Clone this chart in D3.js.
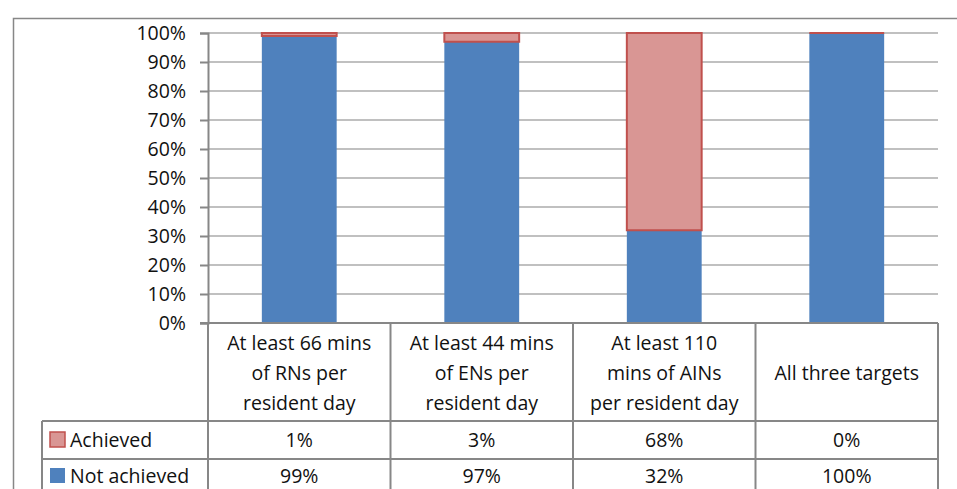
<!DOCTYPE html>
<html>
<head>
<meta charset="utf-8">
<script src="https://cdn.jsdelivr.net/npm/d3@7"></script>
<style>
  body { margin: 0; background: #fff; }
  text { font-family: "Open Sans", "Noto Sans", sans-serif; fill: #111; }
</style>
</head>
<body>
<script>
const categories = [
  ["At least 66 mins", "of RNs per", "resident day"],
  ["At least 44 mins", "of ENs per", "resident day"],
  ["At least 110", "mins of AINs", "per resident day"],
  ["All three targets"]
];
const seriesNames = ["Achieved", "Not achieved"];
const achieved = [1, 3, 68, 0];
const notAchieved = [99, 97, 32, 100];
const yTicks = [0, 10, 20, 30, 40, 50, 60, 70, 80, 90, 100];

const width = 957, height = 489;
const blue = "#4f81bd", pink = "#d99694", red = "#c0504d";
const lineGray = "#878787", gridGray = "#c0c0c0";
const fs = 19.5;

const svg = d3.select("body").append("svg")
  .attr("width", width).attr("height", height);

const x = d3.scaleBand().domain(d3.range(categories.length)).range([208, 938]).padding(0);
const y = d3.scaleLinear().domain([0, 100]).range([323, 33]);
const barW = x.bandwidth() * 0.41;

// outer border
svg.append("path")
  .attr("d", `M13.5,${height} V18.5 H${width}`)
  .attr("fill", "none").attr("stroke", lineGray).attr("stroke-width", 1.5);

// gridlines
svg.append("g").selectAll("line")
  .data(yTicks.filter(d => d > 0))
  .enter().append("line")
  .attr("x1", 208).attr("x2", 938)
  .attr("y1", d => y(d)).attr("y2", d => y(d))
  .attr("stroke", gridGray).attr("stroke-width", 2);

// y axis
const yAxis = svg.append("g")
  .attr("transform", "translate(208,0)")
  .call(d3.axisLeft(y).tickValues(yTicks).tickFormat(d => d + "%").tickSize(8).tickPadding(14));
yAxis.select(".domain").attr("stroke", lineGray).attr("stroke-width", 2);
yAxis.selectAll(".tick line").attr("stroke", lineGray).attr("stroke-width", 2);
yAxis.selectAll(".tick text").attr("font-size", fs).attr("fill", "#111")
  .attr("font-family", '"Open Sans", sans-serif');

// stacked bars
const stackData = categories.map((c, i) => ({ i, notAchieved: notAchieved[i], achieved: achieved[i] }));
const stack = d3.stack().keys(["notAchieved", "achieved"])(stackData);

svg.append("g").selectAll("rect")
  .data(stack[0]).enter().append("rect")
  .attr("x", d => x(d.data.i) + (x.bandwidth() - barW) / 2)
  .attr("width", barW)
  .attr("y", d => y(d[1]))
  .attr("height", d => y(d[0]) - y(d[1]))
  .attr("fill", blue);

// achieved drawn as paths so a zero segment still shows its outline
svg.append("g").selectAll("path")
  .data(stack[1]).enter().append("path")
  .attr("d", d => {
    const x0 = x(d.data.i) + (x.bandwidth() - barW) / 2;
    return `M${x0},${y(d[1])}H${x0 + barW}V${y(d[0])}H${x0}Z`;
  })
  .attr("fill", pink).attr("stroke", red).attr("stroke-width", 2);

// data table
const tableTop = 323, row1 = 421, row2 = 459;
const grid = svg.append("g").attr("stroke", lineGray).attr("stroke-width", 2).attr("fill", "none");
grid.append("line").attr("x1", 200).attr("x2", 938).attr("y1", tableTop).attr("y2", tableTop);
[row1, row2].forEach(r => grid.append("line").attr("x1", 42).attr("x2", 938).attr("y1", r).attr("y2", r));
grid.append("line").attr("x1", 42).attr("x2", 42).attr("y1", row1).attr("y2", height);
d3.range(categories.length + 1).forEach(i => {
  const xx = i < categories.length ? x(i) : x.range()[1];
  grid.append("line").attr("x1", xx).attr("x2", xx).attr("y1", tableTop).attr("y2", height);
});

// headers
const lh = 30;
categories.forEach((lines, i) => {
  const cx = x(i) + x.bandwidth() / 2;
  const mid = (tableTop + row1) / 2 + 1;
  lines.forEach((t, k) => {
    svg.append("text")
      .attr("x", cx)
      .attr("y", mid + (k - (lines.length - 1) / 2) * lh)
      .attr("dy", "0.35em")
      .attr("text-anchor", "middle")
      .attr("font-size", fs)
      .text(t);
  });
});

// rows
const rows = [
  { name: seriesNames[0], values: achieved, fill: pink, stroke: red, cy: 440 },
  { name: seriesNames[1], values: notAchieved, fill: blue, stroke: "none", cy: 476 }
];
rows.forEach(r => {
  const cy = r.cy;
  svg.append("rect")
    .attr("x", 50).attr("y", cy - 8).attr("width", 15).attr("height", 15)
    .attr("fill", r.fill).attr("stroke", r.stroke).attr("stroke-width", 1.5);
  svg.append("text")
    .attr("x", 70).attr("y", cy).attr("dy", "0.35em")
    .attr("font-size", fs).text(r.name);
  r.values.forEach((v, i) => {
    svg.append("text")
      .attr("x", x(i) + x.bandwidth() / 2).attr("y", cy).attr("dy", "0.35em")
      .attr("text-anchor", "middle").attr("font-size", fs)
      .text(v + "%");
  });
});
</script>
</body>
</html>
